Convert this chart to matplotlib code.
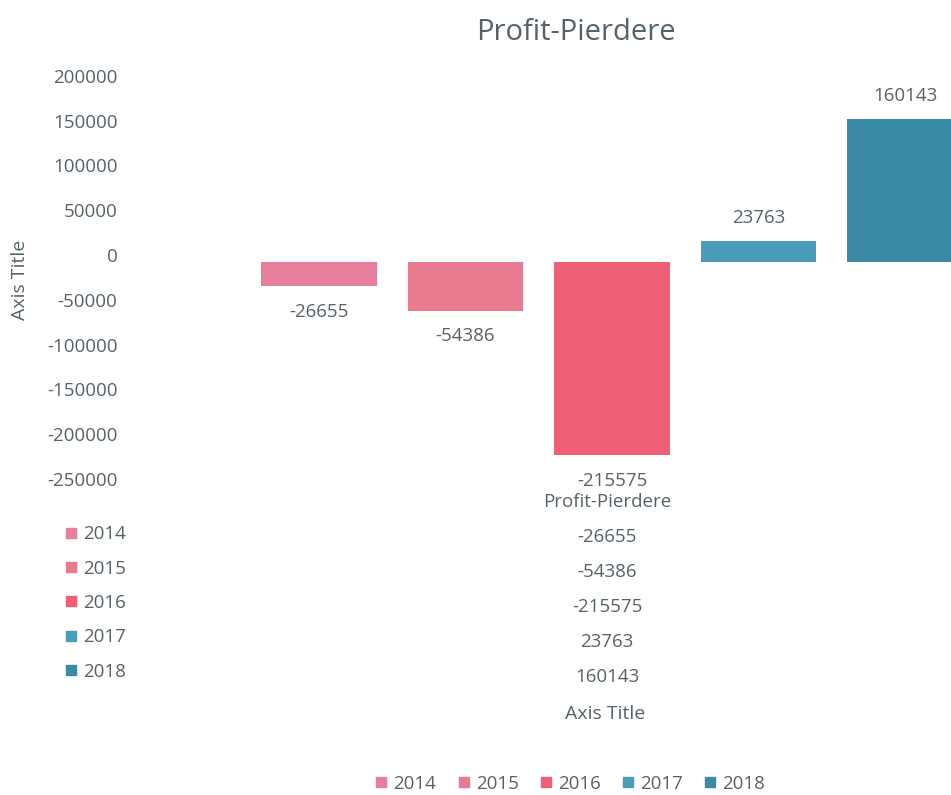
import matplotlib
matplotlib.use("Agg")
import matplotlib.pyplot as plt
import matplotlib.transforms as mtransforms
from matplotlib.lines import Line2D
import numpy as np

years = ["2014", "2015", "2016", "2017", "2018"]
profit = [-26655, -54386, -215575, 23763, 160143]
colors = ["#e77f9c", "#e97b91", "#ef6077", "#4a9db8", "#3b8aa6"]
yticks = [200000, 150000, 100000, 50000, 0, -50000, -100000, -150000, -200000, -250000]

grey = "#56626a"
plt.rcParams["font.family"] = ["Open Sans", "DejaVu Sans"]

fig = plt.figure(figsize=(9.51, 7.95), dpi=100)
ax = fig.add_axes([130 / 951, 1 - 500 / 795, 1 - 130 / 951, 440 / 795])

x = np.arange(len(years))
bars = ax.bar(x, profit, width=0.79, color=colors)
ax.set_xlim(-1.29, 4.314)
ax.set_ylim(-265740, 225550)

for b, v in zip(bars, profit):
    off = 16 if v > 0 else -18.5
    ax.annotate(str(v), (b.get_x() + b.get_width() / 2, v), xytext=(0, off),
                textcoords="offset points", ha="center", va="center",
                fontsize=13.5, color=grey)

ax.set_yticks(yticks)
ax.set_yticklabels([str(t) for t in yticks])
ax.tick_params(axis="y", length=0, pad=9, labelsize=13.5, labelcolor=grey)
shift = mtransforms.ScaledTranslation(0, 5 / 72, fig.dpi_scale_trans)
for lab in ax.get_yticklabels():
    lab.set_transform(lab.get_transform() + shift)
ax.set_xticks([])
for s in ax.spines.values():
    s.set_visible(False)

fig.text(20 / 951, 1 - 280 / 795, "Axis Title", rotation=90, ha="center", va="center",
         fontsize=14, color=grey)
fig.text(576 / 951, 1 - 33 / 795, "Profit-Pierdere", ha="center", va="center",
         fontsize=21, color=grey)

# the table-like block under the chart
fig.text(607 / 951, 1 - 502 / 795, "Profit-Pierdere", ha="center", va="center",
         fontsize=13.5, color=grey)
for i, v in enumerate(profit):
    fig.text(607 / 951, 1 - (537 + 35 * i) / 795, str(v), ha="center", va="center",
             fontsize=13.5, color=grey)
fig.text(605 / 951, 1 - 714 / 795, "Axis Title", ha="center", va="center",
         fontsize=14, color=grey)

handles = [Line2D([], [], marker="s", linestyle="none", markersize=7, color=c) for c in colors]
leg1 = fig.legend(handles, years, loc="upper left", bbox_to_anchor=(55 / 951, 1 - 516 / 795),
                  frameon=False, fontsize=13.5, labelspacing=0.87, handlelength=0.7,
                  handletextpad=0.3, borderpad=0, labelcolor=grey)
leg2 = fig.legend(handles, years, loc="center", bbox_to_anchor=(570 / 951, 1 - 784 / 795),
                  ncol=5, frameon=False, fontsize=13.5, handlelength=0.7,
                  handletextpad=0.3, columnspacing=1.1, labelcolor=grey)

fig.savefig("out.png", dpi=100, facecolor="white")
